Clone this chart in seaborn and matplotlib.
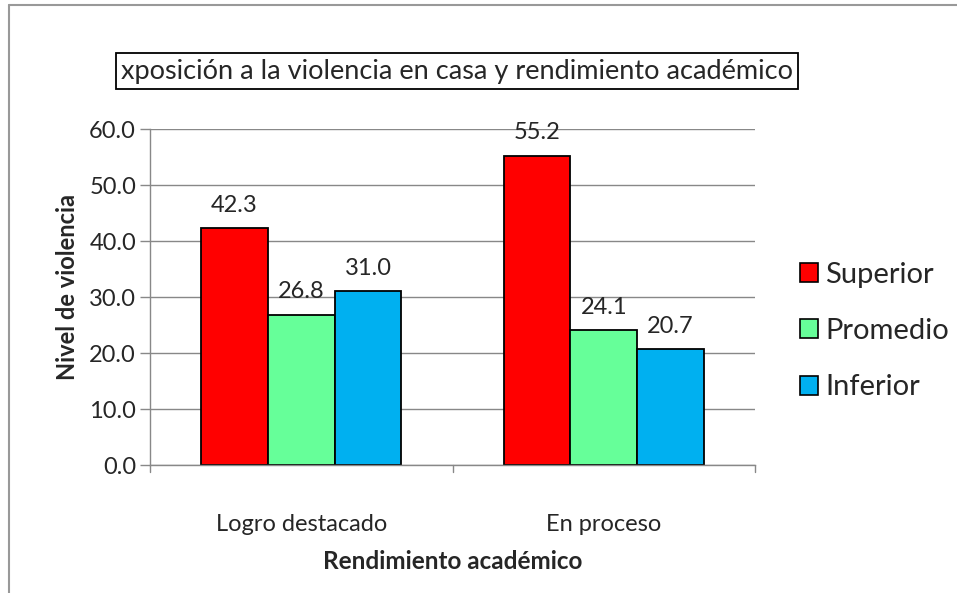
import numpy as np
import pandas as pd
import matplotlib
matplotlib.use("Agg")
import matplotlib.pyplot as plt
import seaborn as sns
from matplotlib.lines import Line2D
from matplotlib.patches import Patch

# data
categorias = ["Logro destacado", "En proceso"]
niveles = ["Superior", "Promedio", "Inferior"]
superior = [42.3, 55.2]
promedio = [26.8, 24.1]
inferior = [31.0, 20.7]
colores = ["#FF0000", "#66FF99", "#00B0F0"]

df = pd.DataFrame({
    "Rendimiento": categorias * 3,
    "Nivel": [n for n in niveles for _ in categorias],
    "Valor": superior + promedio + inferior,
})

sns.set_style("white")
plt.rcParams['font.family'] = ['Lato', 'DejaVu Sans']

fig = plt.figure(figsize=(9.57, 5.93), dpi=100)
ax = fig.add_axes([150 / 957, 1 - 465 / 593, 605 / 957, 336 / 593])

sns.barplot(data=df, x="Rendimiento", y="Valor", hue="Nivel", hue_order=niveles,
            palette=colores, width=0.662, edgecolor="black", linewidth=1.3,
            saturation=1, ax=ax, legend=False)

for cont in ax.containers:
    ax.bar_label(cont, fmt="%.1f", padding=9, fontsize=17)

ax.set_ylim(0, 60)
ax.set_xlim(-0.5, 1.5)
ax.set_yticks(np.arange(0, 61, 10))
ax.set_yticklabels([f"{v:.1f}" for v in np.arange(0, 61, 10)], fontsize=17)
ax.tick_params(axis="x", labelsize=17, length=0, pad=35)
ax.tick_params(axis="y", length=7, color="#888888", width=1, left=True, pad=3)
ax.set_xticks([0, 1])
ax.set_xticklabels(categorias)
# category boundary ticks
for xb in [-0.5, 0.5, 1.5]:
    ax.plot([xb, xb], [0, -0.021], transform=ax.get_xaxis_transform(),
            color="#888888", lw=1, clip_on=False)
ax.yaxis.grid(True, color="#888888", lw=1)
ax.set_axisbelow(True)
for s in ["top", "right"]:
    ax.spines[s].set_visible(False)
for s in ["left", "bottom"]:
    ax.spines[s].set_color("#888888")
    ax.spines[s].set_linewidth(1)

ax.set_xlabel("Rendimiento académico", fontsize=17.5, fontweight="bold", labelpad=11)
ax.set_ylabel("Nivel de violencia", fontsize=17, fontweight="bold")
ax.yaxis.set_label_coords(-0.117, 0.53)

handles = [Patch(facecolor=c, edgecolor="black", linewidth=1.2) for c in colores]
fig.legend(handles, niveles, loc="center left", bbox_to_anchor=(800 / 957, 1 - 331 / 593),
           frameon=False, fontsize=21, handlelength=0.62, handleheight=0.62,
           handletextpad=0.25, labelspacing=1.04, borderaxespad=0, borderpad=0)

fig.text(457 / 957, 1 - 71 / 593, "xposición a la violencia en casa y rendimiento académico",
         ha="center", va="center", fontsize=19.5,
         bbox=dict(boxstyle="square,pad=0.2", facecolor="white", edgecolor="black", linewidth=1.3))

# chart area border (top and left only visible)
fig.add_artist(Line2D([9 / 957, 1], [1 - 5 / 593, 1 - 5 / 593], transform=fig.transFigure,
                      color="#999999", lw=1.5))
fig.add_artist(Line2D([9 / 957, 9 / 957], [0, 1 - 5 / 593], transform=fig.transFigure,
                      color="#999999", lw=1.5))

fig.savefig("out.png", dpi=100)
